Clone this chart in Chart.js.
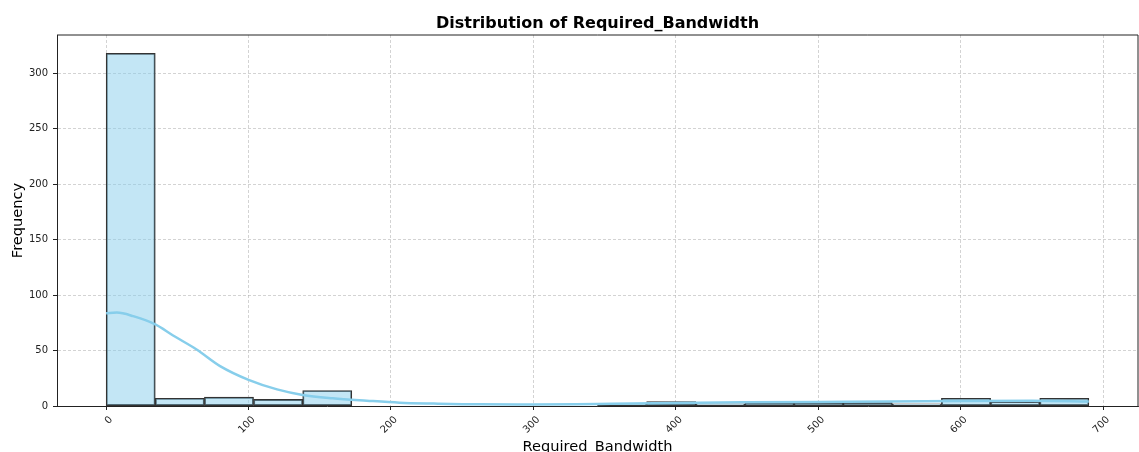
<!DOCTYPE html>
<html>
<head>
<meta charset="utf-8">
<script src="https://cdn.jsdelivr.net/npm/chart.js@4.4.1/dist/chart.umd.min.js"></script>
<style>
  html, body { margin: 0; padding: 0; background: #fff; }
  #wrap { width: 1139px; height: 452px; }
</style>
</head>
<body>
<div id="wrap"><canvas id="histChart" width="1139" height="452"></canvas></div>
<script>
// histogram bins (centers) and counts
const binCenters = [17.25, 51.75, 86.25, 120.75, 155.25, 189.75, 224.25, 258.75, 293.25, 327.75,
  362.25, 396.75, 431.25, 465.75, 500.25, 534.75, 569.25, 603.75, 638.25, 672.75];
const binCounts = [318, 7, 8, 6, 14, 0, 0, 0, 0, 0, 2, 4, 2, 3, 3, 3, 2, 7, 4, 7];

// kde curve
const kdeX = [0, 7.5, 19, 34.5, 47, 63.5, 80, 100, 120, 138, 159, 183, 206, 230, 262, 299, 330,
  355, 400, 450, 500, 550, 600, 650, 690];
const kdeY = [83.6, 84.2, 81, 73.6, 63.6, 51, 36, 23.6, 15, 10, 7, 4.8, 3, 2.2, 1.5, 1.4, 1.6,
  2.1, 2.8, 3.3, 3.7, 4, 4.5, 4.8, 4];

const xTickRange = { min: -34.5, max: 724.5, step: 100 };
const yTickRange = { min: 0, max: 334.5, step: 50 };

const gridColor = 'rgba(176, 176, 176, 0.7)';
const inkColor = '#222';

// matplotlib draws all four spines
const frameBox = {
  id: 'frameBox',
  afterDatasetsDraw(chart) {
    const { ctx, chartArea } = chart;
    ctx.save();
    ctx.strokeStyle = inkColor;
    ctx.lineWidth = 1;
    ctx.beginPath();
    ctx.moveTo(chartArea.left, chartArea.top);
    ctx.lineTo(chartArea.right, chartArea.top);
    ctx.lineTo(chartArea.right, chartArea.bottom);
    ctx.stroke();
    ctx.restore();
  },
};

const ctx = document.getElementById('histChart').getContext('2d');
new Chart(ctx, {
  data: {
    datasets: [
      {
        type: 'line',
        label: 'KDE',
        data: kdeX.map((x, i) => ({ x, y: kdeY[i] })),
        borderColor: 'rgb(135, 206, 235)',
        borderWidth: 2.5,
        pointRadius: 0,
        cubicInterpolationMode: 'monotone',
        order: 0,
      },
      {
        type: 'bar',
        label: 'Count',
        data: binCenters.map((x, i) => ({ x, y: binCounts[i] })),
        backgroundColor: 'rgba(135, 206, 235, 0.5)',
        borderColor: '#333',
        borderWidth: 1.2,
        borderSkipped: false,
        barPercentage: 1,
        categoryPercentage: 1,
        order: 1,
      },
    ],
  },
  options: {
    responsive: false,
    animation: false,
    layout: { padding: { left: 0, right: 1, top: 0, bottom: 0 } },
    plugins: {
      legend: { display: false },
      tooltip: { enabled: false },
      title: {
        display: true,
        text: 'Distribution of Required_Bandwidth',
        color: '#000',
        fullSize: false,
        font: { family: 'DejaVu Sans', size: 16, weight: 'bold' },
        padding: { top: 14, bottom: 1.8 },
      },
    },
    scales: {
      x: {
        type: 'linear',
        offset: false,
        min: xTickRange.min,
        max: xTickRange.max,
        afterFit(scale) { scale.height = 46; },
        ticks: {
          stepSize: xTickRange.step,
          includeBounds: false,
          minRotation: 45,
          maxRotation: 45,
          labelOffset: 5,
          padding: 4,
          color: inkColor,
          font: { family: 'DejaVu Sans', size: 10 },
        },
        grid: {
          offset: false,
          color: gridColor,
          lineWidth: 0.8,
          tickColor: inkColor,
          tickLength: 4,
          tickWidth: 1,
        },
        border: { color: inkColor, width: 1, dash: [3, 2] },
        title: {
          display: true,
          text: 'Required_Bandwidth',
          color: '#000',
          font: { family: 'DejaVu Sans', size: 14.6 },
          padding: { top: 0, bottom: -4 },
        },
      },
      y: {
        type: 'linear',
        min: yTickRange.min,
        max: yTickRange.max,
        afterFit(scale) { scale.width = 57; },
        ticks: {
          stepSize: yTickRange.step,
          includeBounds: false,
          padding: 5,
          color: inkColor,
          font: { family: 'DejaVu Sans', size: 10 },
        },
        grid: {
          color: gridColor,
          lineWidth: 0.8,
          tickColor: inkColor,
          tickLength: 4,
          tickWidth: 1,
        },
        border: { color: inkColor, width: 1, dash: [3, 2] },
        title: {
          display: true,
          text: 'Frequency',
          color: '#000',
          font: { family: 'DejaVu Sans', size: 14.6 },
          padding: { top: 9, bottom: 0 },
        },
      },
    },
  },
  plugins: [frameBox],
});
</script>
</body>
</html>
